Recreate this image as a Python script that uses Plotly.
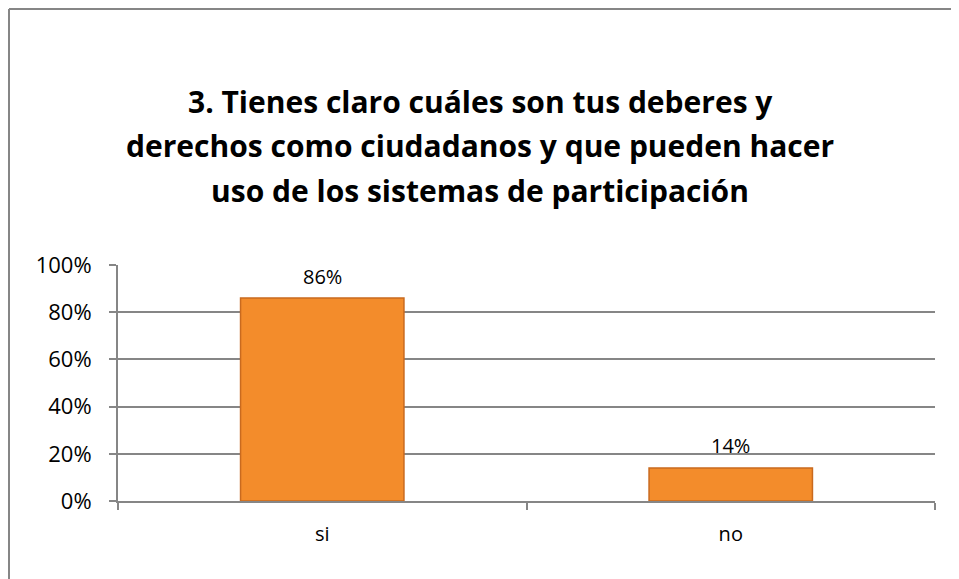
import plotly.graph_objects as go

categories = ["si", "no"]
values = [0.86, 0.14]
labels = ["86%", "14%"]
title_lines = [
    "3. Tienes claro cuáles son tus deberes y",
    "derechos como ciudadanos y que pueden hacer",
    "uso de los sistemas de participación",
]

FONT = "Open Sans, Lato, sans-serif"
OFF = 8  # page body margin
W, H = 959 - OFF, 579 - OFF
L, T = 118 - OFF, 265 - OFF
R = W - (935 - OFF)
B = H - (501 - OFF)
pw, ph = W - L - R, H - T - B

fig = go.Figure()
fig.add_trace(go.Bar(
    x=categories, y=values, width=0.4, cliponaxis=False,
    marker=dict(color="#F38C2B", line=dict(color="#C96A1E", width=1.5)),
))

# data labels above the bars
for c, v, lab in zip(categories, values, labels):
    fig.add_annotation(x=c, y=v, text=lab, showarrow=False, yanchor="middle",
                       yshift=22, font=dict(size=20, color="#000000", family=FONT))

# title, one annotation per line to get Office-like line spacing
for i, line in enumerate(title_lines):
    fig.add_annotation(
        text="<b>" + line + "</b>", showarrow=False,
        xref="paper", yref="paper", xanchor="center", yanchor="middle",
        x=(480 - 118) / pw, y=(501 - (101 + 44.5 * i)) / ph,
        font=dict(size=30, color="#000000", family=FONT),
    )

# outer chart border (only left and top edges fall inside the picture)
bx = (9 - 118) / pw
by = (501 - 9) / ph
fig.add_shape(type="line", xref="paper", yref="paper", x0=bx, x1=bx, y0=-1.0, y1=by,
              line=dict(color="#868686", width=2), layer="below")
fig.add_shape(type="line", xref="paper", yref="paper", x0=bx, x1=1.2, y0=by, y1=by,
              line=dict(color="#868686", width=2), layer="below")

fig.update_layout(
    width=W, height=H, margin=dict(l=L, r=R, t=T, b=B),
    paper_bgcolor="white", plot_bgcolor="white", showlegend=False,
    font=dict(family=FONT, color="#000000"),
)
fig.update_xaxes(
    showline=True, linecolor="#868686", linewidth=2, ticks="outside",
    tickson="boundaries", ticklen=7, tickcolor="#868686", tickwidth=2,
    tickfont=dict(size=20), ticklabelstandoff=14, showgrid=False,
)
fig.update_yaxes(
    range=[0, 1], dtick=0.2, tickformat=".0%", showline=True,
    linecolor="#868686", linewidth=2, ticks="outside", ticklen=7,
    tickcolor="#868686", tickwidth=2, gridcolor="#868686", gridwidth=1.5,
    tickfont=dict(size=22), ticklabelstandoff=13, zeroline=False,
)

fig.write_html("out.html")
